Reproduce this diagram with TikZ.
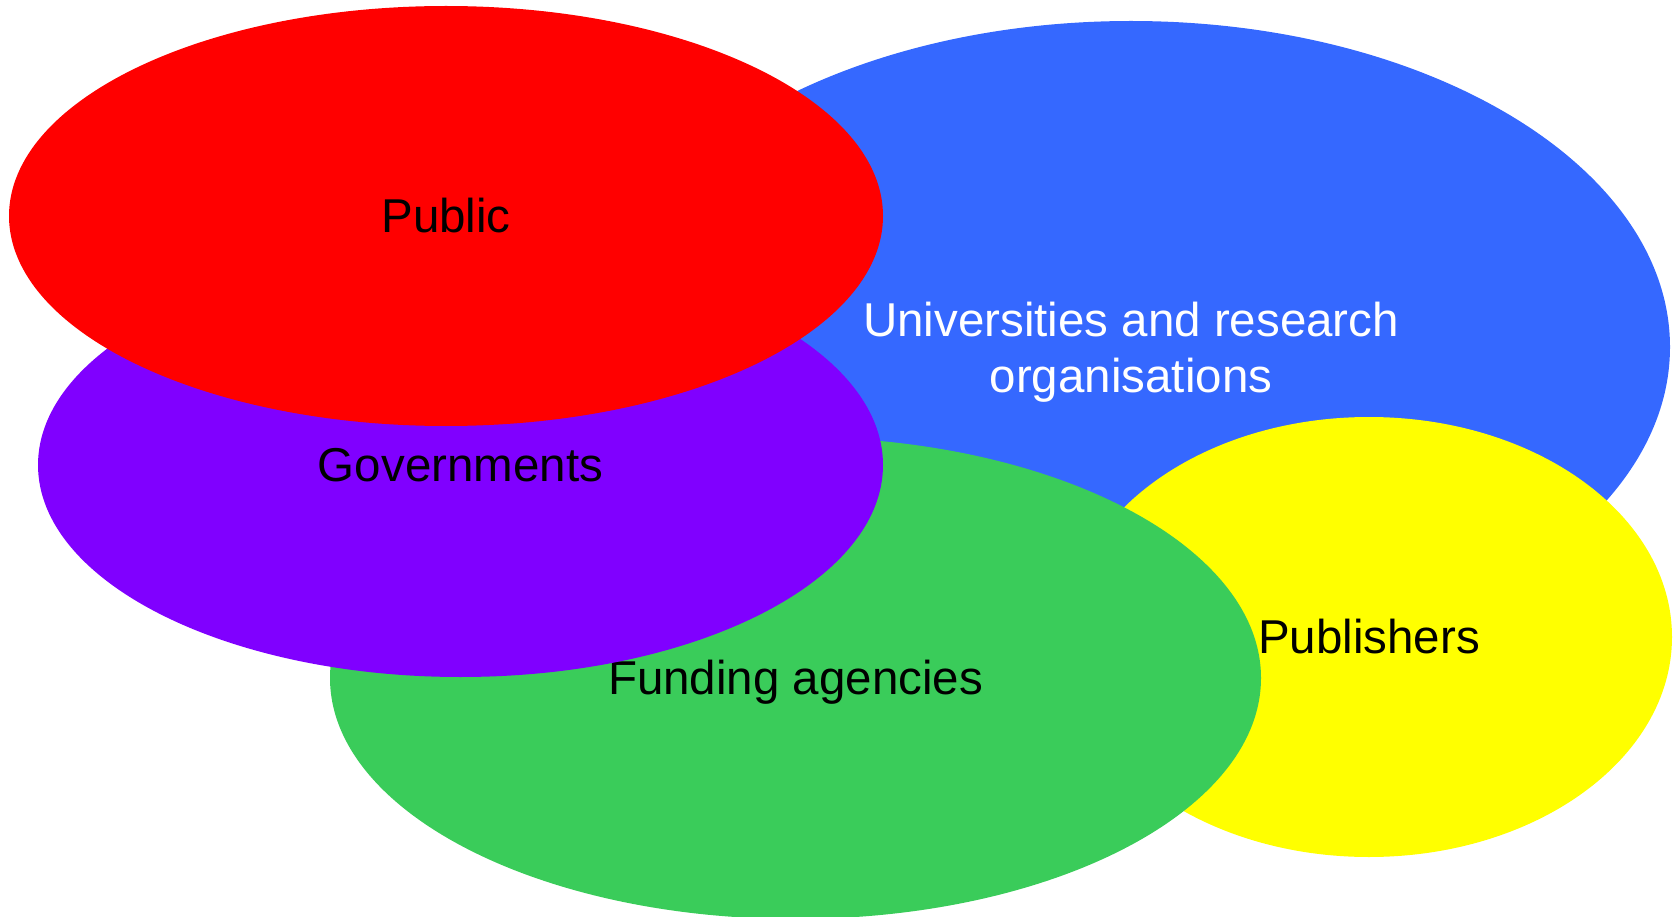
\documentclass[tikz,border=0pt]{standalone}
\usepackage{fontspec}
\setmainfont{Liberation Sans}
\usetikzlibrary{shapes.geometric}
\definecolor{cblue}{RGB}{53,104,255}
\definecolor{cred}{RGB}{255,0,0}
\definecolor{cpurple}{RGB}{128,0,255}
\definecolor{cgreen}{RGB}{58,204,90}
\definecolor{cyellow}{RGB}{255,255,0}
\tikzset{
  blob/.style={ellipse, draw=none, inner sep=0pt, align=center,
    font=\fontsize{47.5}{56}\selectfont},
  blobtext/.style={inner sep=0pt, align=center, font=\fontsize{47.5}{56}\selectfont},
}
\begin{document}
\begin{tikzpicture}[x=1pt,y=-1pt]
\useasboundingbox (0,0) rectangle (1679,917);
\node[blob, fill=cblue, minimum width=1078pt, minimum height=652pt,
  label={[blobtext, text=white, yshift=-5.5pt]center:Universities and research\\organisations}] (univ) at (1131,347) {};
\node[blob, fill=cyellow, minimum width=606pt, minimum height=440pt] (pub) at (1369,637) {Publishers};
\node[blob, fill=cgreen, minimum width=931pt, minimum height=482pt,
  label={[blobtext, yshift=-4pt]center:Funding agencies}] (fund) at (795.5,678) {};
\node[blob, fill=cpurple, minimum width=845pt, minimum height=424pt] (gov) at (460.5,465) {Governments};
\node[blob, fill=cred, minimum width=874pt, minimum height=420pt] (public) at (446,216) {Public};
\end{tikzpicture}
\end{document}
